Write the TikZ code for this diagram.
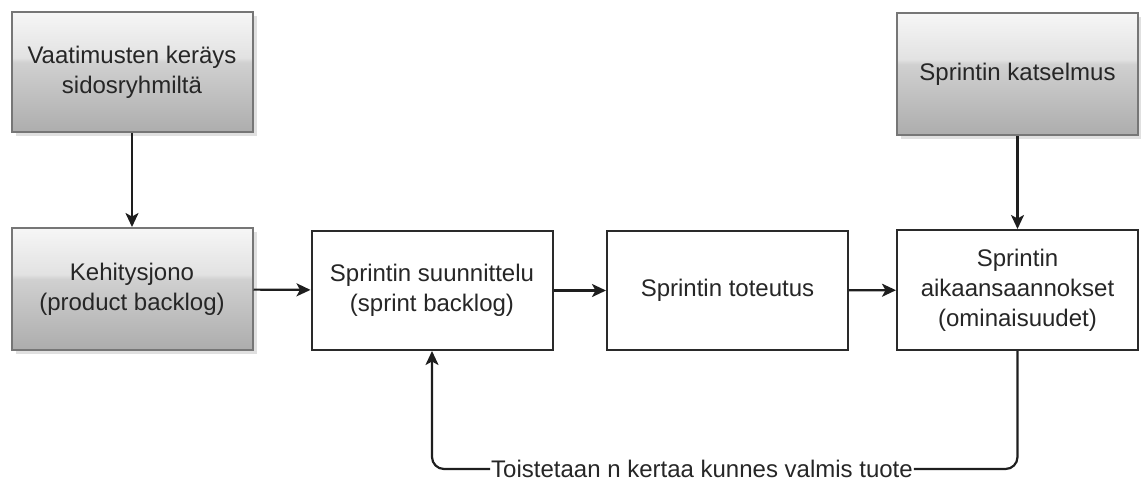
\documentclass[tikz,border=0pt]{standalone}
\usepackage{fontspec}
\setmainfont{Liberation Sans}
\usetikzlibrary{arrows.meta,shadows}

\definecolor{gtop}{HTML}{F6F6F6}
\definecolor{gmidhi}{HTML}{E2E2E2}
\definecolor{gmidlo}{HTML}{D0D0D0}
\definecolor{gbot}{HTML}{ADADAD}
\definecolor{grayline}{HTML}{767676}
\definecolor{boxline}{HTML}{2A2A2A}
\definecolor{arrowc}{HTML}{1E1E1E}
\definecolor{txt}{HTML}{262626}

% glossy grey fill: light upper part, darker lower part with a soft step
\pgfdeclareverticalshading{glossgray}{100bp}{%
  color(0bp)=(gbot); color(25bp)=(gbot); color(54bp)=(gmidlo);
  color(56bp)=(gmidhi); color(75bp)=(gtop); color(100bp)=(gtop)}

\begin{document}
\begin{tikzpicture}[x=1pt,y=-1pt,
  box/.style={draw=boxline, line width=2pt, fill=white,
    minimum width=241pt, minimum height=120pt, align=center,
    font=\fontsize{24}{30}\selectfont, text=txt, inner sep=0pt},
  graybox/.style={box, draw=grayline, shading=glossgray,
    drop shadow={shadow xshift=4pt, shadow yshift=-4pt, fill=black, opacity=0.12}},
  flow/.style={draw=arrowc, line width=2.2pt,
    -{Stealth[length=14pt,width=13pt,inset=3.5pt]}},
  loopline/.style={draw=arrowc, line width=2.2pt, rounded corners=12pt}
]
\useasboundingbox (0,0) rectangle (1141,483);

\node[graybox, minimum height=120pt] (req) at (132,72)
  {Vaatimusten keräys\\sidosryhmiltä};
\node[graybox, minimum height=122pt] (backlog) at (132,289)
  {Kehitysjono\\(product backlog)};
\node[box, minimum height=119pt] (plan) at (432,290.5)
  {Sprintin suunnittelu\\(sprint backlog)};
\node[box, minimum height=119pt] (impl) at (727.5,290.5)
  {Sprintin toteutus};
\node[box] (result) at (1017.5,290)
  {Sprintin\\aikaansaannokset\\(ominaisuudet)};
\node[graybox, minimum height=122pt] (review) at (1017.5,74)
  {Sprintin katselmus};

\node[font=\fontsize{24}{30}\selectfont, text=txt, inner sep=1pt] (repeat)
  at (702,469) {Toistetaan n kertaa kunnes valmis tuote};

\draw[flow] (req) -- (backlog);
\draw[flow] (backlog) -- (plan);
\draw[flow] (plan) -- (impl);
\draw[flow] (impl) -- (result);
\draw[flow] (review) -- (result);

\draw[loopline] (result.south) |- (repeat.east);
\draw[loopline, flow] (repeat.west) -| (plan.south);
\end{tikzpicture}
\end{document}
